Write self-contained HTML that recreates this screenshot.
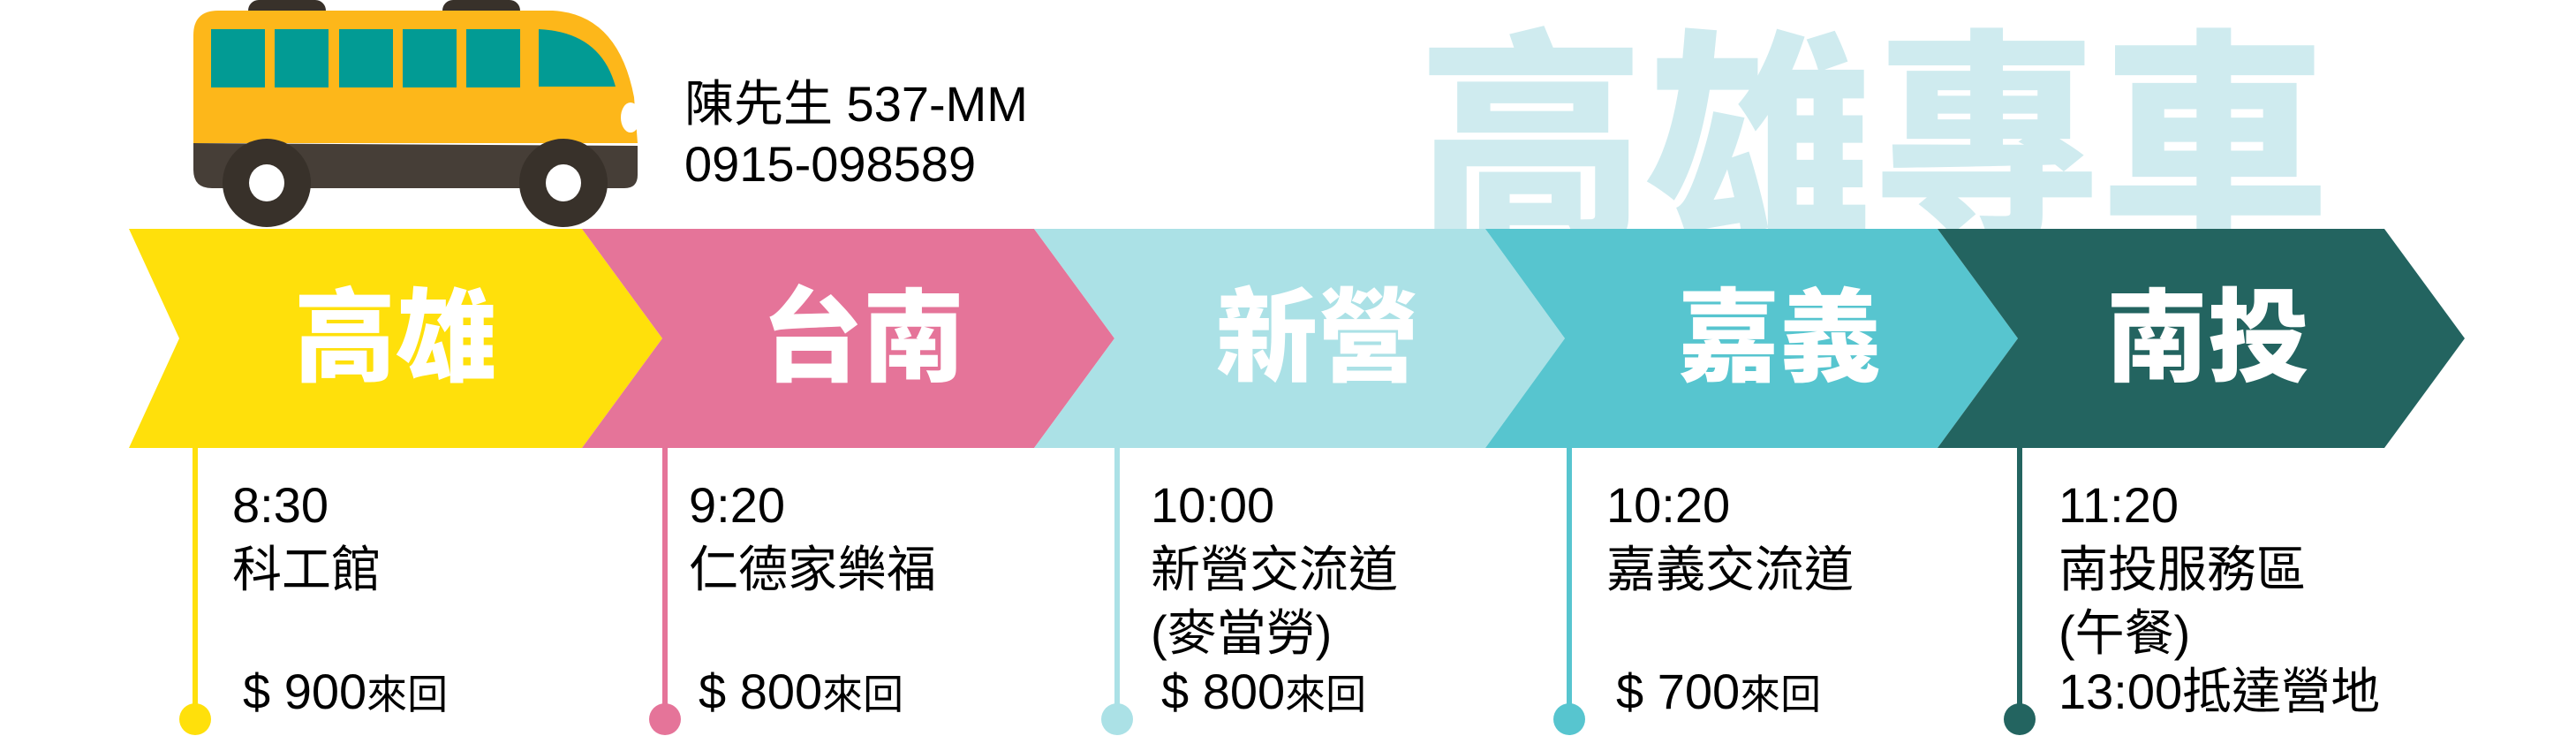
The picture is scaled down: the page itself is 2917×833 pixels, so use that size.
<!DOCTYPE html>
<html><head><meta charset="utf-8"><style>
html,body{margin:0;padding:0;background:#fff;}
svg{display:block;}
.t{font-family:"Liberation Sans","Noto Sans CJK TC",sans-serif;font-size:56px;fill:#000;}
.s{font-size:46px;}
.b{font-family:"Noto Sans CJK TC","Noto Sans CJK SC",sans-serif;font-weight:900;font-size:115px;fill:#fff;}
</style></head><body>
<svg width="2917" height="833" viewBox="0 0 2917 833" xmlns="http://www.w3.org/2000/svg">
<rect width="2917" height="833" fill="#fff"/>
<text x="2121" y="252" text-anchor="middle" font-family="Noto Sans CJK TC, Noto Sans CJK SC, sans-serif" font-weight="900" font-size="258" fill="#CFEBEF">高雄專車</text>
<!-- bus -->
<rect x="281" y="0" width="88" height="24" rx="12" fill="#38312A"/>
<rect x="501" y="0" width="88" height="24" rx="12" fill="#38312A"/>
<path d="M219 40 Q219 12 247 12 L626 12 Q700 16 718 110 L722 162 L219 162 Z" fill="#FDB71A"/>
<path d="M219 162 L722 165 L722 198 Q722 213 707 213 L240 213 Q219 213 219 192 Z" fill="#463E37"/>
<rect x="239" y="33" width="61" height="66" fill="#029B94"/>
<rect x="311" y="33" width="61" height="66" fill="#029B94"/>
<rect x="384" y="33" width="61" height="66" fill="#029B94"/>
<rect x="456" y="33" width="61" height="66" fill="#029B94"/>
<rect x="528" y="33" width="61" height="66" fill="#029B94"/>
<path d="M610 33 Q680 36 697 98 L610 98 Z" fill="#029B94"/>
<ellipse cx="714" cy="133" rx="11" ry="17" fill="#fff"/>
<circle cx="302" cy="207" r="50" fill="#38312A"/>
<ellipse cx="302" cy="207" rx="20" ry="21" fill="#fff"/>
<circle cx="638" cy="207" r="50" fill="#38312A"/>
<ellipse cx="638" cy="207" rx="20" ry="21" fill="#fff"/>
<text class="t" x="775" y="137" font-size="57">陳先生 537-MM</text>
<text class="t" x="775" y="205">0915-098589</text>
<!-- bands -->
<polygon points="146,259 659,259 750,383 659,507 146,507 203,383" fill="#FFE00B"/>
<polygon points="659,259 1171,259 1262,383 1171,507 659,507 750,383" fill="#E57499"/>
<polygon points="1171,259 1682,259 1772,383 1682,507 1171,507 1262,383" fill="#ABE1E6"/>
<polygon points="1682,259 2194,259 2285,383 2194,507 1682,507 1772,383" fill="#57C5CF"/>
<polygon points="2194,259 2700,259 2791,383 2700,507 2194,507 2285,383" fill="#236460"/>
<text class="b" x="448" y="422" text-anchor="middle">高雄</text>
<text class="b" x="977" y="422" text-anchor="middle">台南</text>
<text class="b" x="1492" y="422" text-anchor="middle">新營</text>
<text class="b" x="2015" y="422" text-anchor="middle">嘉義</text>
<text class="b" x="2500" y="422" text-anchor="middle">南投</text>
<!-- stems -->
<rect x="218" y="507" width="6" height="305" fill="#FFE00B"/><circle cx="221" cy="814" r="18" fill="#FFE00B"/>
<rect x="750" y="507" width="6" height="305" fill="#E57499"/><circle cx="753" cy="814" r="18" fill="#E57499"/>
<rect x="1262" y="507" width="6" height="305" fill="#ABE1E6"/><circle cx="1265" cy="814" r="18" fill="#ABE1E6"/>
<rect x="1774" y="507" width="6" height="305" fill="#57C5CF"/><circle cx="1777" cy="814" r="18" fill="#57C5CF"/>
<rect x="2284" y="507" width="6" height="305" fill="#236460"/><circle cx="2287" cy="814" r="18" fill="#236460"/>
<!-- texts -->
<text class="t" x="263" y="591">8:30</text>
<text class="t" x="263" y="664">科工館</text>
<text class="t" x="275" y="802">$ 900<tspan class="s">來回</tspan></text>

<text class="t" x="780" y="591">9:20</text>
<text class="t" x="780" y="664">仁德家樂福</text>
<text class="t" x="791" y="802">$ 800<tspan class="s">來回</tspan></text>

<text class="t" x="1303" y="591">10:00</text>
<text class="t" x="1303" y="664">新營交流道</text>
<text class="t" x="1303" y="736">(麥當勞)</text>
<text class="t" x="1315" y="802">$ 800<tspan class="s">來回</tspan></text>

<text class="t" x="1819" y="591">10:20</text>
<text class="t" x="1819" y="664">嘉義交流道</text>
<text class="t" x="1830" y="802">$ 700<tspan class="s">來回</tspan></text>

<text class="t" x="2331" y="591">11:20</text>
<text class="t" x="2331" y="664">南投服務區</text>
<text class="t" x="2331" y="736">(午餐)</text>
<text class="t" x="2331" y="802">13:00抵達營地</text>
</svg>
</body></html>
